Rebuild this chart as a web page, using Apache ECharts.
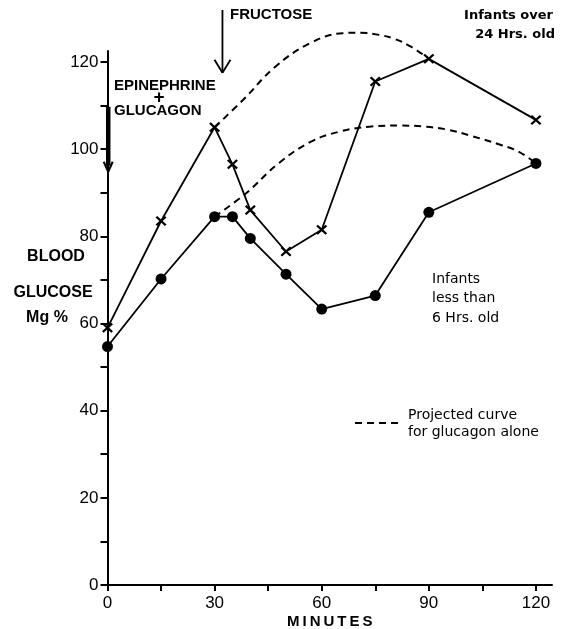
<!DOCTYPE html>
<html>
<head>
<meta charset="utf-8">
<script src="https://cdn.jsdelivr.net/npm/echarts@6/dist/echarts.min.js"></script>
<style>html,body{margin:0;padding:0;background:#fff}#c{width:568px;height:629px}</style>
</head>
<body>
<div id="c"></div>
<script>
// ---- data ----
const minutes = [0, 15, 30, 35, 40, 50, 60, 75, 90, 120];
const over24Hrs = [59, 83.5, 105, 96.5, 86, 76.5, 81.5, 115.5, 120.7, 106.7];
const under6Hrs = [54.7, 70.2, 84.5, 84.5, 79.5, 71.3, 63.3, 66.4, 85.5, 96.7];
const projUpperMin = [30, 38, 47, 57, 66, 71, 76, 80, 85, 90];
const projUpperVal = [105, 111.3, 118.9, 124.4, 126.6, 126.7, 126.2, 125.4, 123.5, 120.7];
const projLowerMin = [30, 39, 48, 57, 65, 74, 82, 88, 95, 102, 110, 115, 120];
const projLowerVal = [84.5, 90, 96.8, 101.7, 104, 105.2, 105.4, 105.2, 104.5, 103, 101, 99.5, 96.7];
const xTickValues = [0, 15, 30, 45, 60, 75, 90, 105, 120];
const xLabelValues = [0, 30, 60, 90, 120];
const yTickValues = [0, 10, 20, 30, 40, 50, 60, 70, 80, 90, 100, 110, 120];
const yLabelValues = [0, 20, 40, 60, 80, 100, 120];
// annotation anchors (data coordinates)
const fructoseArrow = {x: 32.2, from: 131.9, to: 117.5};
const epiArrow = {x: 0.2, from: 109.7, to: 94.8};

const pairs = (xs, ys) => xs.map((x, i) => [x, ys[i]]);
const X_PATH = 'path://M0,3L3,0L10,7L17,0L20,3L13,10L20,17L17,20L10,13L3,20L0,17L7,10Z';
const FONT = 'Liberation Sans';
const FONT2 = 'DejaVu Sans';

const chart = echarts.init(document.getElementById('c'), null, {renderer: 'canvas'});
const axisCommon = {
  type: 'value',
  splitLine: {show: false},
  axisLine: {show: true, onZero: false, lineStyle: {color: '#000', width: 2}},
};
chart.setOption({
  animation: false,
  backgroundColor: '#fff',
  grid: {left: 107.5, right: 16, top: 51, bottom: 44, containLabel: false, outerBoundsMode: 'none'},
  xAxis: Object.assign({}, axisCommon, {
    min: 0, max: 124.5,
    axisTick: {show: true, length: 6, lineStyle: {color: '#000', width: 2}, customValues: xTickValues},
    axisLabel: {customValues: xLabelValues, fontSize: 17, color: '#000', margin: 10, fontFamily: FONT},
    name: 'M\u2009I\u2009N\u2009U\u2009T\u2009E\u2009S',
    nameLocation: 'middle', nameGap: 37, nameMoveOverlap: false,
    nameTextStyle: {fontSize: 15, fontWeight: 'bold', color: '#000', fontFamily: FONT, verticalAlign: 'middle'}
  }),
  yAxis: Object.assign({}, axisCommon, {
    min: 0, max: 122.5,
    axisTick: {show: true, length: 7, lineStyle: {color: '#000', width: 2}, customValues: yTickValues},
    axisLabel: {customValues: yLabelValues, fontSize: 17, color: '#000', margin: 9, fontFamily: FONT}
  }),
  series: [
    {type: 'line', data: pairs(projUpperMin, projUpperVal), smooth: 0.4, symbol: 'none', clip: false,
     lineStyle: {color: '#000', width: 2, type: [7, 5]}, z: 1},
    {type: 'line', data: pairs(projLowerMin, projLowerVal), smooth: 0.4, symbol: 'none', clip: false,
     lineStyle: {color: '#000', width: 2, type: [7, 5]}, z: 1},
    {type: 'line', data: pairs(minutes, over24Hrs), symbol: X_PATH, symbolSize: [11, 10], clip: false,
     itemStyle: {color: '#000'}, lineStyle: {color: '#000', width: 1.8}, z: 3},
    {type: 'line', data: pairs(minutes, under6Hrs), symbol: 'circle', symbolSize: 11, clip: false,
     itemStyle: {color: '#000'}, lineStyle: {color: '#000', width: 1.8}, z: 3}
  ]
});

const px = (x, y) => chart.convertToPixel({gridIndex: 0}, [x, y]);
const line = (x1, y1, x2, y2, w, dash) => ({type: 'line', shape: {x1, y1, x2, y2},
  style: {stroke: '#000', lineWidth: w, lineDash: dash || null}, z: 10});
const text = (t, x, y, opts) => ({type: 'text', x, y, z: 10, style: Object.assign({
  text: t, fill: '#000', fontSize: 15, fontWeight: 'bold', fontFamily: FONT,
  textAlign: 'left', textVerticalAlign: 'middle'}, opts || {})});

const f0 = px(fructoseArrow.x, fructoseArrow.from), f1 = px(fructoseArrow.x, fructoseArrow.to);
const e0 = px(epiArrow.x, epiArrow.from), e1 = px(epiArrow.x, epiArrow.to);

const g = [
  // fructose arrow
  line(f0[0], f0[1], f1[0], f1[1], 1.8),
  line(f1[0] - 8, f1[1] - 13, f1[0], f1[1], 1.8),
  line(f1[0] + 8, f1[1] - 13, f1[0], f1[1], 1.8),
  // epinephrine arrow (thick)
  line(e0[0], e0[1], e1[0], e1[1] - 6, 4.5),
  line(e1[0] - 4.5, e1[1] - 10, e1[0], e1[1], 2),
  line(e1[0] + 4.5, e1[1] - 10, e1[0], e1[1], 2),
  // texts
  text('FRUCTOSE', 230, 15),
  text('EPINEPHRINE', 114, 86),
  text('+', 159, 98, {textAlign: 'center', fontSize: 19}),
  text('GLUCAGON', 114, 111),
  text('Infants over', 553, 16, {textAlign: 'right', fontFamily: FONT2, fontSize: 13}),
  text('24 Hrs. old', 555, 35, {textAlign: 'right', fontFamily: FONT2, fontSize: 13}),
  text('BLOOD', 56, 257, {textAlign: 'center', fontSize: 16}),
  text('GLUCOSE', 53, 293, {textAlign: 'center', fontSize: 16}),
  text('Mg %', 47, 318, {textAlign: 'center', fontSize: 16}),
  text('Infants', 432, 279, {fontFamily: FONT2, fontSize: 14, fontWeight: 'normal'}),
  text('less than', 432, 298, {fontFamily: FONT2, fontSize: 14, fontWeight: 'normal'}),
  text('6 Hrs. old', 432, 318, {fontFamily: FONT2, fontSize: 14, fontWeight: 'normal'}),
  // legend
  line(355, 423, 400, 423, 2, [7, 5]),
  text('Projected curve', 408, 415, {fontFamily: FONT2, fontSize: 14, fontWeight: 'normal'}),
  text('for glucagon alone', 408, 432, {fontFamily: FONT2, fontSize: 14, fontWeight: 'normal'})
];
chart.setOption({graphic: g});
</script>
</body>
</html>
